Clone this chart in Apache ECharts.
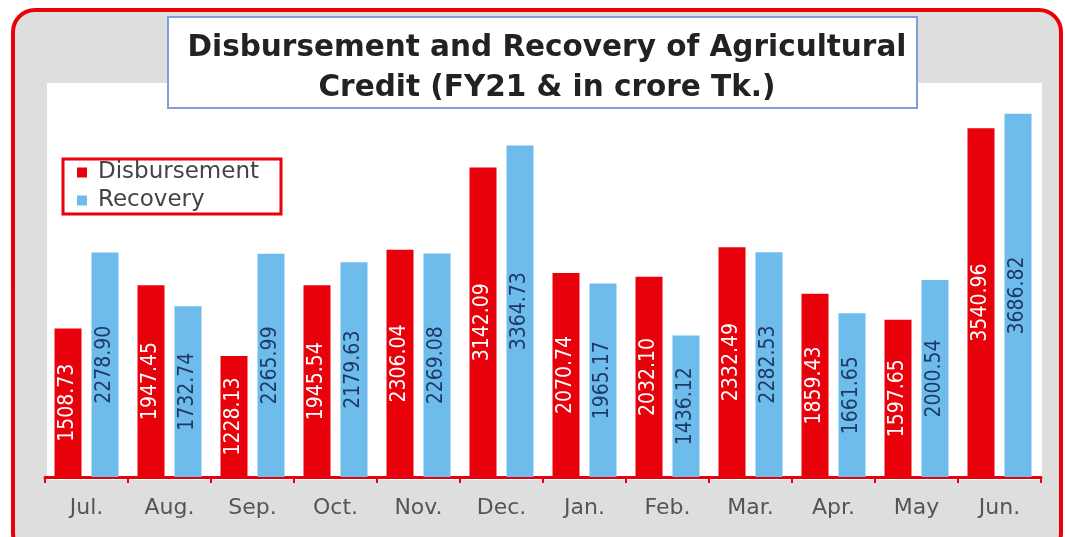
<!DOCTYPE html>
<html>
<head>
<meta charset="utf-8">
<script src="https://cdn.jsdelivr.net/npm/echarts@6/dist/echarts.min.js"></script>
<style>
  html, body { margin: 0; padding: 0; background: #fff; }
  #chart { width: 1065px; height: 537px; }
</style>
</head>
<body>
<div id="chart"></div>
<script>
// data
const months = ['Jul.', 'Aug.', 'Sep.', 'Oct.', 'Nov.', 'Dec.', 'Jan.', 'Feb.', 'Mar.', 'Apr.', 'May', 'Jun.'];
const disbursement = [1508.73, 1947.45, 1228.13, 1945.54, 2306.04, 3142.09, 2070.74, 2032.10, 2332.49, 1859.43, 1597.65, 3540.96];
const recovery = [2278.90, 1732.74, 2265.99, 2179.63, 2269.08, 3364.73, 1965.17, 1436.12, 2282.53, 1661.65, 2000.54, 3686.82];

const RED = '#e8000b';
const BLUE = '#6dbcec';
const narrow = '"Liberation Sans Narrow", "DejaVu Sans Condensed", "Liberation Sans", sans-serif';
const wide = '"DejaVu Sans", sans-serif';

let myChart = echarts.init(document.getElementById('chart'));

myChart.setOption({
  animation: false,
  backgroundColor: '#fff',
  graphic: [
    // grey panel with red rounded border
    { type: 'rect', z: -10, shape: { x: 13, y: 10, width: 1048, height: 545, r: 22 },
      style: { fill: '#dedede', stroke: RED, lineWidth: 4 } },
    // white plot area
    { type: 'rect', z: -9, shape: { x: 47, y: 83, width: 995, height: 397 },
      style: { fill: '#fff' } },
    // title box
    { type: 'rect', z: 1, shape: { x: 168, y: 17, width: 749, height: 91 },
      style: { fill: '#fff', stroke: '#7f9fd6', lineWidth: 2 } }
  ],
  title: {
    text: 'Disbursement and Recovery of Agricultural\nCredit (FY21 & in crore Tk.)',
    left: 542,
    top: 23,
    textAlign: 'center',
    z: 5,
    textStyle: {
      fontFamily: wide,
      fontWeight: 'bold',
      fontSize: 29.5,
      lineHeight: 40,
      color: '#222'
    }
  },
  legend: {
    orient: 'vertical',
    left: 63,
    top: 159,
    itemWidth: 10,
    itemHeight: 10,
    itemGap: 5,
    padding: [2, 22, 2, 14],
    borderColor: RED,
    borderWidth: 3,
    backgroundColor: '#fff',
    icon: 'rect',
    textStyle: { fontFamily: wide, fontSize: 23, color: '#444', padding: [0, 0, 0, 6] },
    data: ['Disbursement', 'Recovery']
  },
  grid: { left: 45, right: 24, top: 83, bottom: 60 },
  xAxis: {
    type: 'category',
    data: months,
    axisLine: { lineStyle: { color: RED, width: 3 } },
    axisTick: { show: true, length: 6, lineStyle: { color: RED, width: 2 } },
    axisLabel: { margin: 20, fontSize: 22, color: '#555', fontFamily: wide }
  },
  yAxis: {
    type: 'value',
    min: 0,
    max: 4000,
    show: false,
    splitLine: { show: false }
  },
  series: [
    {
      name: 'Disbursement',
      type: 'bar',
      data: disbursement,
      barWidth: 27,
      barGap: '37%',
      itemStyle: { color: RED },
      label: {
        show: true,
        position: 'inside',
        rotate: 90,
        color: '#fff',
        fontSize: 21,
        fontFamily: narrow,
        formatter: p => p.value.toFixed(2)
      }
    },
    {
      name: 'Recovery',
      type: 'bar',
      data: recovery,
      barWidth: 27,
      itemStyle: { color: BLUE },
      label: {
        show: true,
        position: 'inside',
        rotate: 90,
        color: '#1f3a66',
        fontSize: 21,
        fontFamily: narrow,
        formatter: p => p.value.toFixed(2)
      }
    }
  ]
});
</script>
</body>
</html>
